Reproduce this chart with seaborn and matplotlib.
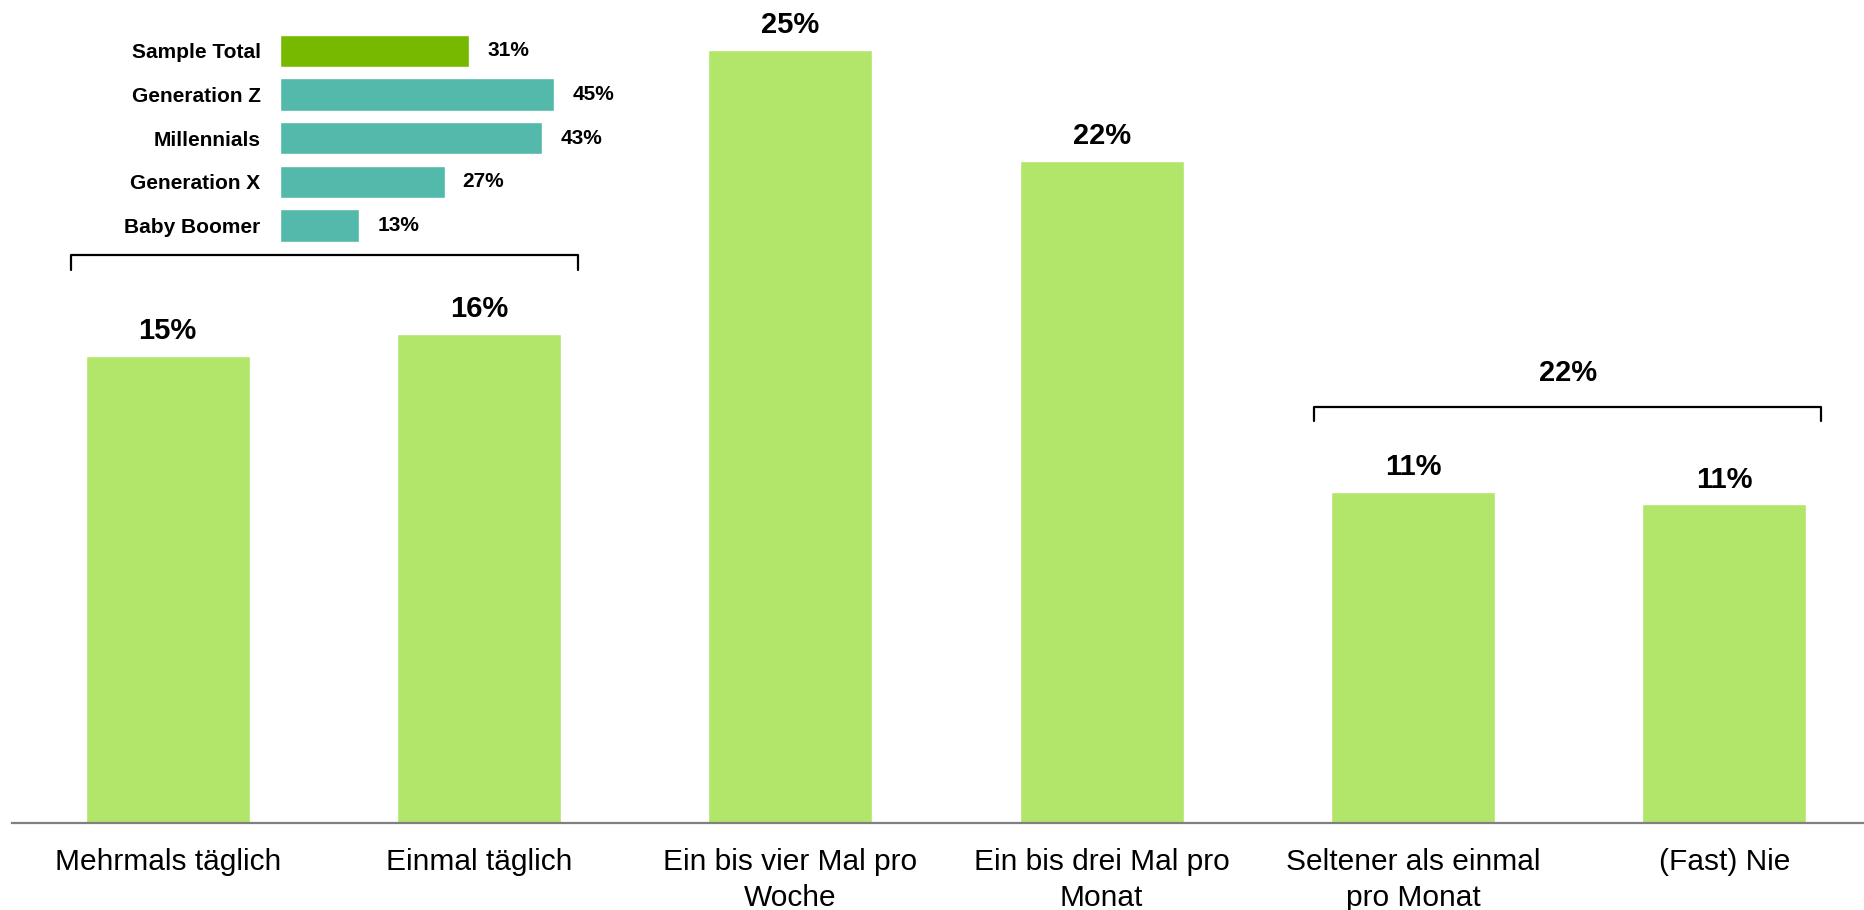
import numpy as np
import pandas as pd
import matplotlib
matplotlib.use("Agg")
import matplotlib.pyplot as plt
import seaborn as sns

# main chart: frequency categories
categories = ["Mehrmals täglich", "Einmal täglich", "Ein bis vier Mal pro\nWoche",
              "Ein bis drei Mal pro\nMonat", "Seltener als einmal\npro Monat", "(Fast) Nie"]
shares = [15.1, 15.8, 25.0, 21.4, 10.7, 10.3]
share_labels = ["15%", "16%", "25%", "22%", "11%", "11%"]

# inset: "daily" share by generation
groups = ["Sample Total", "Generation Z", "Millennials", "Generation X", "Baby Boomer"]
group_shares = [31, 45, 43, 27, 13]
group_labels = ["31%", "45%", "43%", "27%", "13%"]

# bracket sums
bracket_label = "22%"

sns.set_style("white")
plt.rcParams["font.family"] = ["Liberation Sans", "DejaVu Sans"]
plt.rcParams["text.color"] = "black"
plt.rcParams["xtick.color"] = "black"
plt.rcParams["ytick.color"] = "black"

W, H = 1865, 910
fig = plt.figure(figsize=(W / 100, H / 100), dpi=100)

ax = fig.add_axes([12 / W, 87 / H, 1 - 12 / W, 823 / H])
df = pd.DataFrame({"cat": categories, "share": shares})
sns.barplot(data=df, x="cat", y="share", color="#B2E66B", width=0.527,
            saturation=1, ax=ax)
ax.set_xlim(-0.5, 5.452)
ax.set_ylim(0, 26.6)
ax.set_xlabel("")
ax.set_ylabel("")
ax.set_yticks([])
for s in ["top", "right", "left"]:
    ax.spines[s].set_visible(False)
ax.spines["bottom"].set_color("#808080")
ax.spines["bottom"].set_linewidth(1.6)
ax.tick_params(axis="x", length=0, pad=18, labelsize=21.5, labelcolor="black")
for t in ax.get_xticklabels():
    t.set_linespacing(1.38)

for i, (v, lab) in enumerate(zip(shares, share_labels)):
    ax.annotate(lab, (i, v), xytext=(0, 12), textcoords="offset points",
                ha="center", va="baseline", fontsize=21, fontweight="bold")

# brackets
def bracket(x0, x1, ylo, yhi):
    ax.plot([x0, x0, x1, x1], [ylo, yhi, yhi, ylo], color="black", lw=1.6,
            solid_joinstyle="round", clip_on=False)

bracket(-0.311, 1.318, 17.88, 18.37)
bracket(3.683, 5.311, 13.0, 13.46)
ax.text(4.497, 14.55, bracket_label, ha="center", va="center",
        fontsize=21, fontweight="bold")

# inset
ins = fig.add_axes([280 / W, (H - 247.4) / H, 400 / W, 218.4 / H])
gdf = pd.DataFrame({"group": groups, "share": group_shares})
sns.barplot(data=gdf, y="group", x="share", hue="group", legend=False,
            palette=["#76B900", "#53B9AB", "#53B9AB", "#53B9AB", "#53B9AB"],
            width=0.746, saturation=1, orient="h", ax=ins)
ins.set_xlim(0, 65.6)
ins.set_xlabel("")
ins.set_ylabel("")
ins.set_xticks([])
for s in ins.spines.values():
    s.set_visible(False)
ins.patch.set_alpha(0)
ins.tick_params(axis="y", length=0, pad=14, labelcolor="black")
for t in ins.get_yticklabels():
    t.set_fontsize(15)
    t.set_fontweight("bold")
for i, (v, lab) in enumerate(zip(group_shares, group_labels)):
    ins.annotate(lab, (v, i), xytext=(13, 0), textcoords="offset points",
                 ha="left", va="center", fontsize=15, fontweight="bold")

fig.savefig("out.png", dpi=100)
